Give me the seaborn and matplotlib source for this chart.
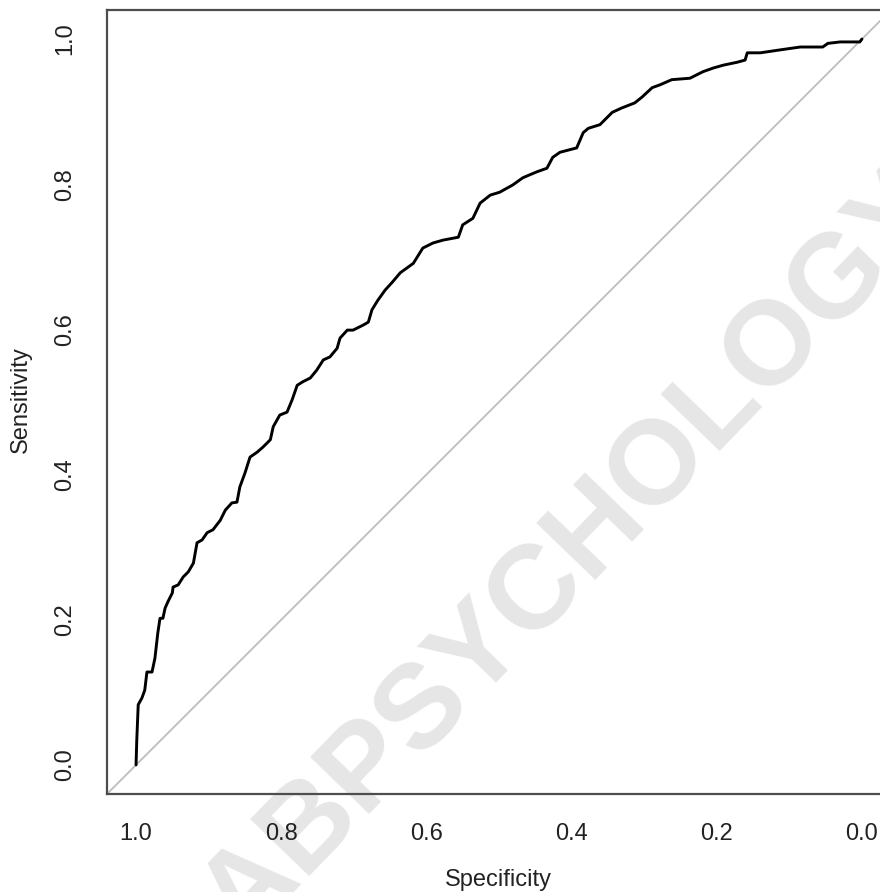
import numpy as np
import pandas as pd
import matplotlib
matplotlib.use("Agg")
import matplotlib.pyplot as plt
import seaborn as sns

# ROC curve (specificity, sensitivity)
specificity = [1.000, 0.999, 0.997, 0.992, 0.988, 0.985, 0.978, 0.974, 0.970, 0.967,
               0.963, 0.960, 0.956, 0.950, 0.949, 0.942, 0.935, 0.928, 0.921, 0.916,
               0.909, 0.902, 0.894, 0.884, 0.877, 0.868, 0.861, 0.857, 0.850, 0.843,
               0.833, 0.825, 0.815, 0.811, 0.802, 0.792, 0.785, 0.778, 0.770, 0.760,
               0.751, 0.742, 0.733, 0.723, 0.719, 0.709, 0.701, 0.687, 0.680, 0.675,
               0.667, 0.657, 0.647, 0.636, 0.618, 0.605, 0.591, 0.577, 0.556, 0.550,
               0.536, 0.526, 0.512, 0.499, 0.481, 0.467, 0.448, 0.434, 0.426, 0.416,
               0.393, 0.384, 0.377, 0.361, 0.344, 0.331, 0.313, 0.303, 0.289, 0.278,
               0.262, 0.237, 0.219, 0.205, 0.191, 0.172, 0.161, 0.158, 0.140, 0.113,
               0.085, 0.054, 0.047, 0.030, 0.003, 0.000]
sensitivity = [0.000, 0.034, 0.083, 0.092, 0.103, 0.128, 0.128, 0.147, 0.182, 0.202,
               0.202, 0.216, 0.225, 0.237, 0.245, 0.248, 0.259, 0.266, 0.278, 0.306,
               0.310, 0.320, 0.324, 0.337, 0.351, 0.361, 0.362, 0.383, 0.402, 0.424,
               0.431, 0.438, 0.448, 0.466, 0.482, 0.486, 0.503, 0.523, 0.528, 0.533,
               0.544, 0.558, 0.562, 0.574, 0.588, 0.599, 0.599, 0.606, 0.610, 0.627,
               0.640, 0.654, 0.665, 0.678, 0.691, 0.712, 0.719, 0.723, 0.727, 0.744,
               0.753, 0.774, 0.785, 0.789, 0.799, 0.809, 0.817, 0.822, 0.837, 0.844,
               0.850, 0.871, 0.877, 0.882, 0.899, 0.905, 0.912, 0.920, 0.933, 0.937,
               0.944, 0.946, 0.955, 0.960, 0.964, 0.968, 0.971, 0.981, 0.981, 0.985,
               0.989, 0.989, 0.994, 0.996, 0.996, 1.000]

tick_values = [0.0, 0.2, 0.4, 0.6, 0.8, 1.0]
tick_labels = ["0.0", "0.2", "0.4", "0.6", "0.8", "1.0"]

sns.set_style("white")
plt.rcParams['font.family'] = ['Liberation Sans', 'DejaVu Sans']

df = pd.DataFrame({'Specificity': specificity, 'Sensitivity': sensitivity})

fig = plt.figure(figsize=(8.8, 8.92), dpi=100)
ax = fig.add_axes([0.1216, 0.1099, 0.8909, 0.8789])
ax.patch.set_alpha(0)

# watermark, behind the plot (runs off the canvas like the original)
fig.text(0.622, 0.352, "LABPSYCHOLOGY", rotation=46, rotation_mode='anchor',
         ha='center', va='center', fontsize=86, fontweight='bold',
         color='#e6e6e6', zorder=-1)

# identity line
ax.axline((1, 0), (0, 1), color='#bdbdbd', lw=1.3, zorder=1)

sns.lineplot(data=df, x='Specificity', y='Sensitivity', sort=False, estimator=None,
             color='black', lw=2.1, ax=ax, zorder=3)

ax.set_xlim(1.04, -0.04)
ax.set_ylim(-0.04, 1.04)
ax.set_xticks(tick_values)
ax.set_xticklabels(tick_labels)
ax.set_yticks(tick_values)
ax.set_yticklabels(tick_labels, rotation=90, va='center')

for s in ax.spines.values():
    s.set_color('#4d4d4d')
    s.set_linewidth(1.6)

ax.tick_params(axis='both', direction='out', length=5, width=1.3, color='#4d4d4d',
               labelsize=17, labelcolor='#222222')
ax.tick_params(axis='x', pad=16)
ax.tick_params(axis='y', pad=17)

ax.set_xlabel('Specificity', fontsize=17, color='#222222')
ax.set_ylabel('Sensitivity', fontsize=17, color='#222222')
ax.xaxis.set_label_coords(0.4987, -0.1097)
ax.xaxis.label.set_va('center')
ax.yaxis.set_label_coords(-0.1097, 0.5026)
ax.yaxis.label.set_va('center')

fig.savefig('out.png', dpi=100)
